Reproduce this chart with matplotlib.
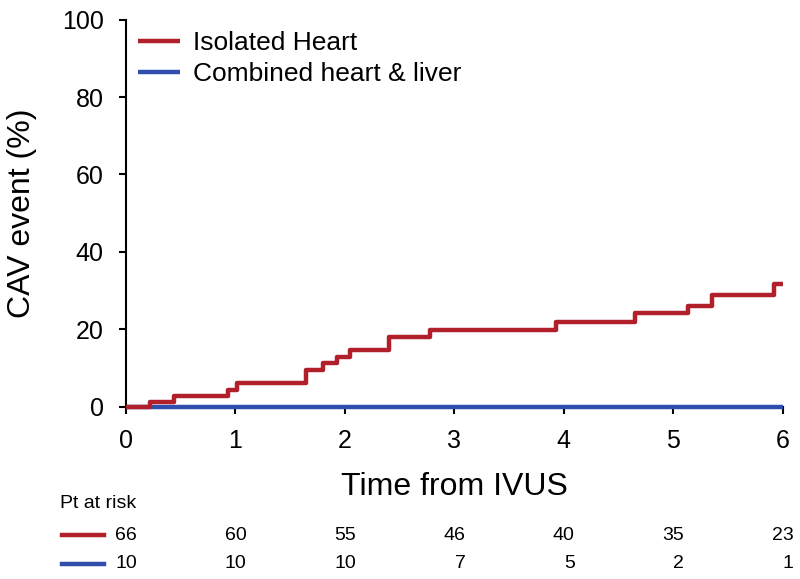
#!python
# CAV event curve with patients-at-risk table

import matplotlib
matplotlib.use('Agg')
import matplotlib.pyplot as plt
import matplotlib.transforms as mtransforms
from matplotlib.lines import Line2D

plt.rcParams['font.family'] = ['Liberation Sans', 'DejaVu Sans']

# event curve, isolated heart (years, cumulative %)
heart_time = [0, 0.22, 0.44, 0.93, 1.01, 1.64, 1.80, 1.93, 2.05, 2.40, 2.78,
              3.93, 4.65, 5.13, 5.35, 5.92, 6.0]
heart_pct = [0, 1.3, 2.8, 4.4, 6.1, 9.5, 11.2, 12.9, 14.7, 18.0, 19.8,
             21.8, 24.2, 26.1, 28.8, 31.8, 31.8]

# combined heart & liver: no events
combined_time = [0, 6.0]
combined_pct = [0, 0]

at_risk_time = [0, 1, 2, 3, 4, 5, 6]
at_risk_heart = [66, 60, 55, 46, 40, 35, 23]
at_risk_combined = [10, 10, 10, 7, 5, 2, 1]

RED = '#B01F2A'
BLUE = '#2F4EAD'

fig = plt.figure(figsize=(8, 5.79), dpi=100)
ax = fig.add_axes([0.1575, 0.2976, 0.821, 0.6684])

ax.step(combined_time, combined_pct, where='post', color=BLUE, lw=3.2,
        solid_capstyle='butt', clip_on=False, zorder=3,
        label='Combined heart & liver')
ax.step(heart_time, heart_pct, where='post', color=RED, lw=3.2,
        solid_capstyle='butt', clip_on=False, zorder=4,
        label='Isolated Heart')

ax.set_xlim(0, 6)
ax.set_ylim(0, 100)
ax.set_xticks(range(0, 7))
ax.set_yticks(range(0, 101, 20))
for side in ['top', 'right']:
    ax.spines[side].set_visible(False)
for side in ['left', 'bottom']:
    ax.spines[side].set_linewidth(1.5)
ax.tick_params(direction='out', length=5, width=1.5, labelsize=18, pad=11)

ax.set_xlabel('Time from IVUS', fontsize=23, labelpad=14)
ax.set_ylabel('CAV event (%)', fontsize=23, labelpad=18)

handles, labels = ax.get_legend_handles_labels()
ax.legend(handles[::-1], labels[::-1], loc='upper left', frameon=False,
          fontsize=19, handlelength=1.6, handletextpad=0.5,
          labelspacing=0.26, borderpad=0, borderaxespad=0,
          bbox_to_anchor=(0.018, 0.97))

# patients at risk table
trans = mtransforms.blended_transform_factory(ax.transData, fig.transFigure)
off = mtransforms.offset_copy(trans, fig=fig, x=11, y=0, units='dots')
fig.text(60 / 800, 1 - 503 / 579, 'Pt at risk', fontsize=14, va='center')
for row_y, counts, col in [(535, at_risk_heart, RED),
                           (564, at_risk_combined, BLUE)]:
    yf = 1 - row_y / 579
    fig.add_artist(Line2D([62 / 800, 104 / 800], [yf, yf], color=col, lw=3.2,
                          transform=fig.transFigure))
    for t, n in zip(at_risk_time, counts):
        ax.text(t, yf, str(n), transform=off, ha='right', va='center',
                fontsize=14, clip_on=False)

fig.savefig('out.png', dpi=100)
